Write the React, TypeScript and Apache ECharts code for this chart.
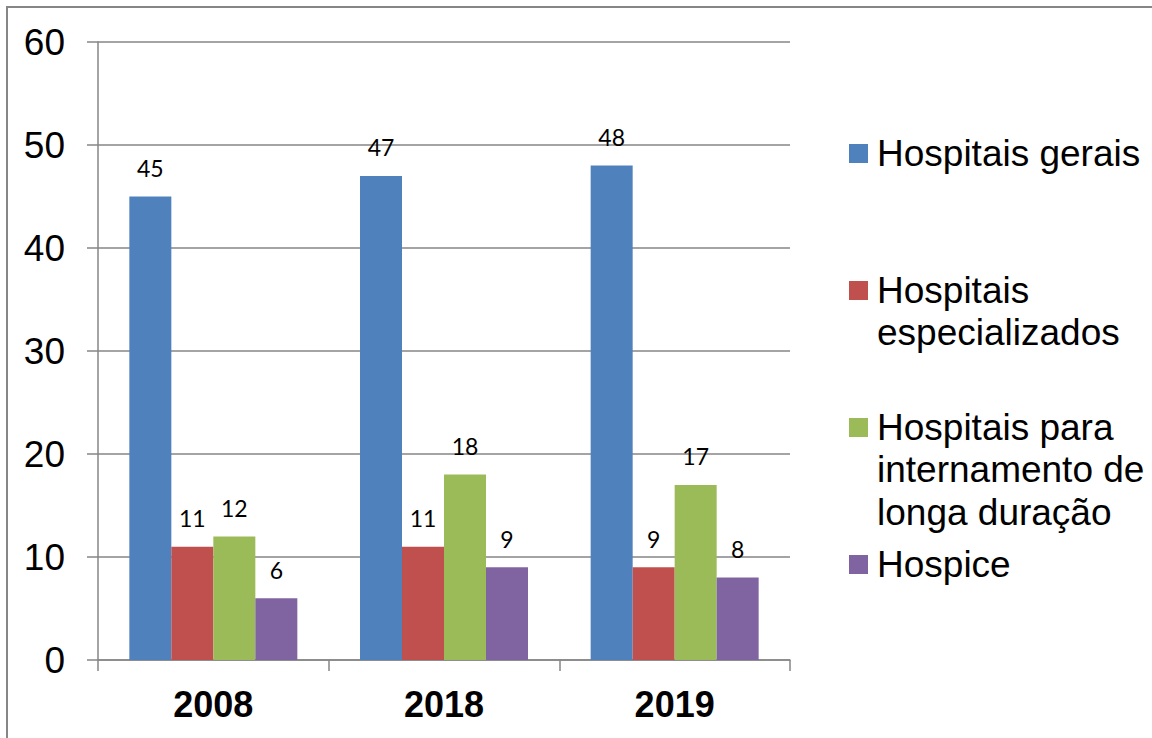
import React, { useEffect, useRef } from "react";
import * as echarts from "echarts";

const categories = ["2008", "2018", "2019"];
const seriesNames = [
  "Hospitais gerais",
  "Hospitais especializados",
  "Hospitais para internamento de longa duração",
  "Hospice",
];
const legendLabels = [
  "Hospitais gerais",
  "Hospitais\nespecializados",
  "Hospitais para\ninternamento de\nlonga duração",
  "Hospice",
];
const hospitaisGerais = [45, 47, 48];
const hospitaisEspecializados = [11, 11, 9];
const hospitaisLongaDuracao = [12, 18, 17];
const hospice = [6, 9, 8];
const colors = ["#4F81BD", "#C0504D", "#9BBB59", "#8064A2"];
const yMin = 0;
const yMax = 60;
const yInterval = 10;

const seriesData = [hospitaisGerais, hospitaisEspecializados, hospitaisLongaDuracao, hospice];
const legendFirstLineY = [153, 290, 427, 564];

export default function App() {
  const ref = useRef<HTMLDivElement>(null);
  useEffect(() => {
    document.body.style.margin = "0";
    if (!ref.current) return;
    const chart = echarts.init(ref.current, undefined, { renderer: "svg" });
    const gray = "#868686";
    const lineH = 42.5;
    const legendGraphics: any[] = [];
    legendLabels.forEach((lab, i) => {
      legendGraphics.push({
        type: "rect",
        shape: { x: 849, y: legendFirstLineY[i] - 9, width: 19, height: 19 },
        style: { fill: colors[i] },
      });
      legendGraphics.push({
        type: "text",
        x: 877,
        y: legendFirstLineY[i] - lineH / 2,
        style: {
          text: lab,
          fontSize: 37,
          fontFamily: "Liberation Sans, Arial, sans-serif",
          fill: "#000",
          lineHeight: lineH,
          verticalAlign: "top",
          align: "left",
        },
      });
    });
    chart.setOption({
      animation: false,
      backgroundColor: "#fff",
      grid: { left: 98, top: 42, width: 692, height: 618, containLabel: false },
      xAxis: {
        type: "category",
        data: categories,
        axisLine: { lineStyle: { color: gray, width: 1.5 } },
        axisTick: { show: true, length: 11, lineStyle: { color: gray, width: 1.5 } },
        axisLabel: {
          fontSize: 36,
          fontWeight: "bold",
          color: "#000",
          fontFamily: "Liberation Sans, Arial, sans-serif",
          margin: 26,
        },
      },
      yAxis: {
        type: "value",
        min: yMin,
        max: yMax,
        interval: yInterval,
        axisLine: { show: true, lineStyle: { color: gray, width: 1.5 } },
        axisTick: { show: true, length: 11, lineStyle: { color: gray, width: 1.5 } },
        splitLine: { show: true, lineStyle: { color: gray, width: 1.5 } },
        axisLabel: {
          fontSize: 37,
          color: "#000",
          fontFamily: "Liberation Sans, Arial, sans-serif",
          margin: 33,
        },
      },
      series: seriesData.map((d, i) => ({
        type: "bar",
        name: seriesNames[i],
        data: d,
        barWidth: 42,
        barGap: "0%",
        itemStyle: { color: colors[i] },
        label: {
          show: true,
          position: "top",
          distance: 17,
          fontSize: 23,
          fontFamily: "Lato, Open Sans, sans-serif",
          color: "#000",
        },
      })),
      graphic: [
        {
          type: "rect",
          shape: { x: 7, y: 7, width: 1400, height: 1000 },
          style: { fill: "none", stroke: gray, lineWidth: 2 },
          silent: true,
        },
        ...legendGraphics,
      ],
    });
    return () => chart.dispose();
  }, []);
  return <div ref={ref} style={{ width: 1152, height: 738 }} />;
}
